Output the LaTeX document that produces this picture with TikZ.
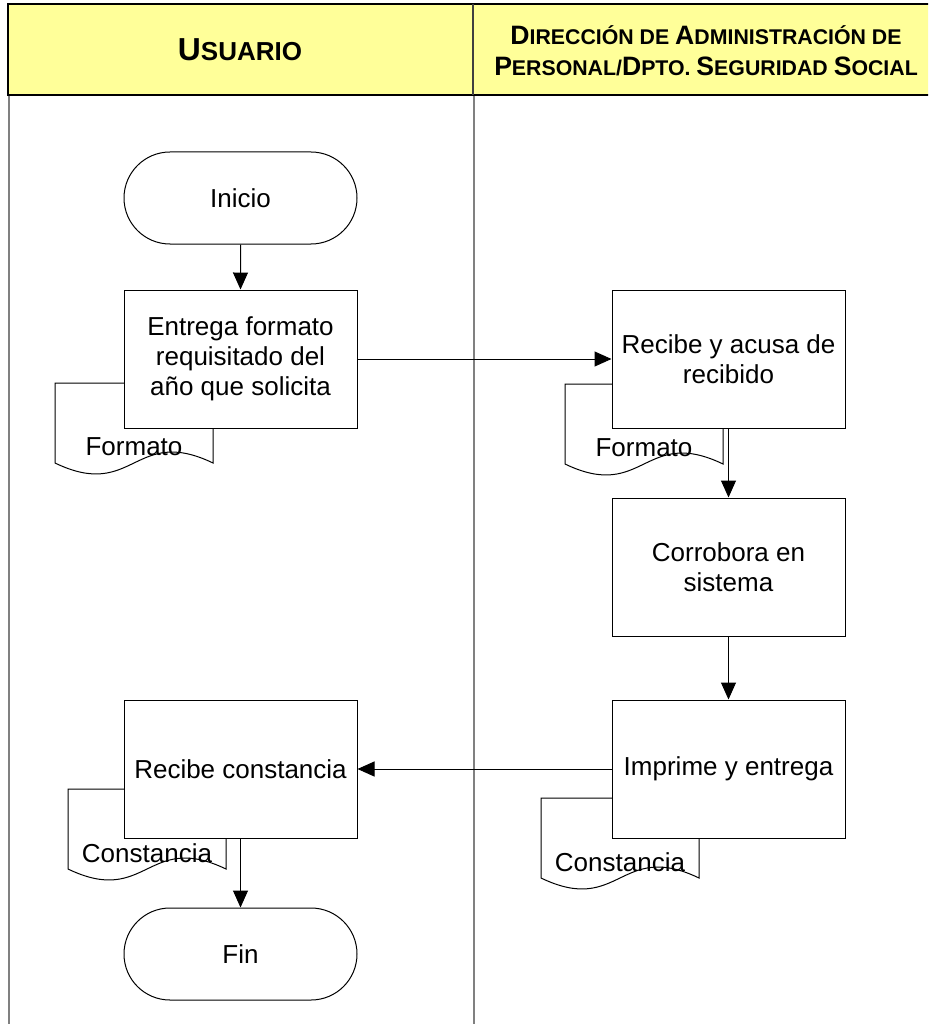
\documentclass[tikz,border=0pt]{standalone}
\usepackage{fontspec}
\setmainfont{Liberation Sans}
\usetikzlibrary{arrows.meta,shapes.misc}

\definecolor{lanehead}{RGB}{255,255,153}
\definecolor{laneline}{RGB}{128,128,128}

% small-caps style lettering for the lane titles
\newcommand\hcapA[1]{{\fontsize{31.8}{30}\selectfont\bfseries #1}}
\newcommand\hcapa[1]{{\fontsize{26}{30}\selectfont\bfseries #1}}
\newcommand\hcapB[1]{{\fontsize{26.6}{31}\selectfont\bfseries #1}}
\newcommand\hcapb[1]{{\fontsize{21.3}{31}\selectfont\bfseries #1}}

\begin{document}
\begin{tikzpicture}[x=1pt,y=-1pt,
  flowtext/.style={font=\fontsize{26}{30}\selectfont, align=center},
  procbox/.style={flowtext, draw=black, line width=1pt, fill=white,
    minimum width=233pt, minimum height=138pt, inner sep=0pt},
  termbox/.style={flowtext, draw=black, line width=1pt, fill=white,
    rounded rectangle, minimum width=233pt, minimum height=92pt, inner sep=0pt},
  flowarrow/.style={draw=black, line width=1pt, -{Triangle[length=17pt,width=15pt]}},
  docline/.style={draw=black, line width=1pt, fill=white},
  doctext/.style={flowtext, inner sep=0pt},
  pics/docsheet/.style={code={
    \draw[docline] (0,0) -- (158,0) -- (158,80)
      .. controls (79,42) and (79,118) .. (0,80) -- cycle;
    \node[doctext] (-txt) at (79,64) {#1};
  }}
]
\useasboundingbox (0,0) rectangle (928,1024);
\clip (0,0) rectangle (928,1024);

% swimlane frame
\fill[white] (0,0) rectangle (928,1024);
\draw[laneline, line width=2pt] (9,95) -- (9,1030);
\draw[laneline, line width=2pt] (474,95) -- (474,1030);
\draw[black, line width=1.5pt, fill=lanehead] (8,4) rectangle (945,95);
\draw[black!75, line width=1.5pt] (473,4) -- (473,95);

\node[align=center] (hdrA) at (240,50) {\hcapA{U}\hcapa{SUARIO}};
\node[align=center, font=\fontsize{26.6}{31}\selectfont] (hdrB) at (706,50.5)
  {\hcapB{D}\hcapb{IRECCIÓN DE }\hcapB{A}\hcapb{DMINISTRACIÓN DE}\\
   \hcapB{P}\hcapb{ERSONAL/}\hcapB{D}\hcapb{PTO. }\hcapB{S}\hcapb{EGURIDAD }\hcapB{S}\hcapb{OCIAL}};

% documents behind the process boxes
\pic (doc1) at (55,383) {docsheet=Formato};
\pic (doc2) at (565,384) {docsheet=Formato};
\pic (doc4) at (541,798) {docsheet=Constancia};
\pic (doc5) at (68,789) {docsheet=Constancia};

% flow nodes
\node[termbox] (ini) at (240.5,198) {Inicio};
\node[procbox] (b1) at (240.5,359) {Entrega formato\\requisitado del\\año que solicita};
\node[procbox] (b2) at (728.5,359) {Recibe y acusa de\\recibido};
\node[procbox] (b3) at (728.5,567) {Corrobora en\\sistema};
\node[procbox] (b4) at (728.5,769) {Imprime y entrega};
\node[procbox] (b5) at (240.5,769) {Recibe constancia};
\node[termbox] (fin) at (240.5,954) {Fin};

% connectors
\draw[flowarrow] (ini) -- (b1);
\draw[flowarrow] (b1) -- (b2);
\draw[flowarrow] (b2) -- (b3);
\draw[flowarrow] (b3) -- (b4);
\draw[flowarrow] (b4) -- (b5);
\draw[flowarrow] (b5) -- (fin);
\end{tikzpicture}
\end{document}
